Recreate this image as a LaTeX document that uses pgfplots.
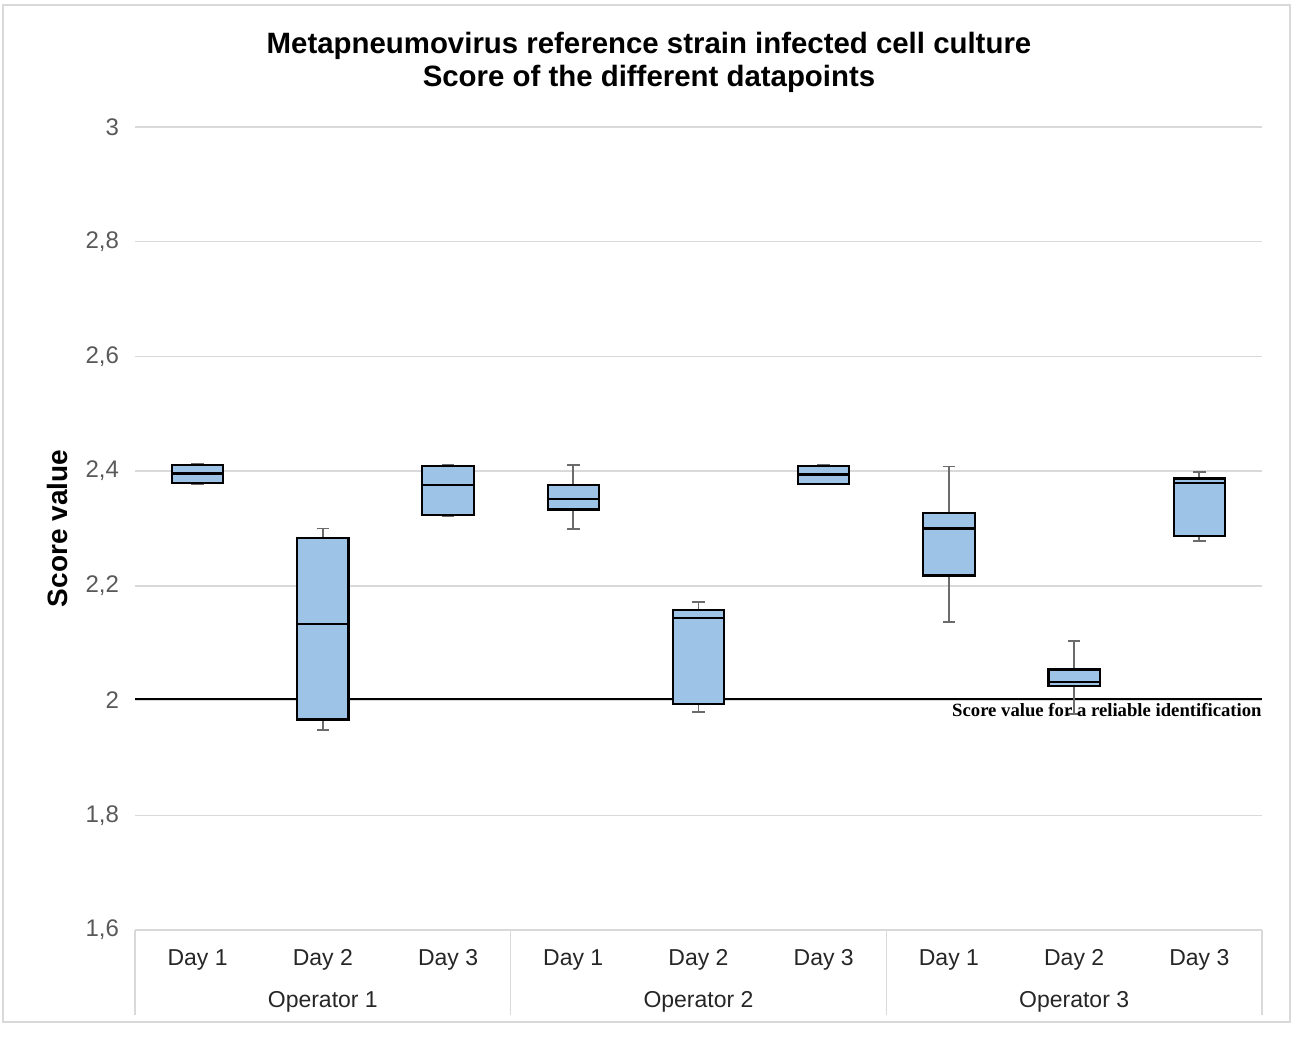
\documentclass[border=0pt]{standalone}
\usepackage{pgfplots}
\pgfplotsset{compat=1.18}
\usepgfplotslibrary{statistics}
\usepackage{fontspec}
\setmainfont{Liberation Sans}
\newfontfamily\timesfont{Liberation Serif}
\definecolor{boxblue}{HTML}{9DC3E6}
\definecolor{whisk}{HTML}{6B6B6B}
\definecolor{gridc}{HTML}{D9D9D9}
\definecolor{tickc}{HTML}{595959}
\definecolor{xlab}{HTML}{262626}
\begin{document}
\begin{tikzpicture}
\path (0,0) rectangle (646pt,513pt);
\draw[gridc, line width=0.6pt] (1.5pt,2pt) rectangle (645pt,510.5pt);
\node[font=\fontsize{14.7}{16}\selectfont\bfseries, anchor=center] at (324.5pt,490pt) {Metapneumovirus reference strain infected cell culture};
\node[font=\fontsize{14.7}{16}\selectfont\bfseries, anchor=center] at (324.5pt,473.5pt) {Score of the different datapoints};
\begin{axis}[
  at={(67.5pt,48pt)}, anchor=south west,
  scale only axis, width=563.5pt, height=401.5pt,
  xmin=-0.5, xmax=8.5, ymin=1.6, ymax=3,
  axis x line*=bottom, axis y line*=left,
  y axis line style={draw=none},
  x axis line style={draw=gridc, line width=0.8pt},
  ytick={1.6,1.8,2,2.2,2.4,2.6,2.8,3},
  ymajorgrids, grid style={draw=gridc, line width=0.7pt},
  ytick style={draw=none},
  xtick={0,1,2,3,4,5,6,7,8},
  xticklabels={Day 1,Day 2,Day 3,Day 1,Day 2,Day 3,Day 1,Day 2,Day 3},
  xtick style={draw=none},
  extra x ticks={-0.5,2.5,5.5,8.5},
  extra x tick labels={},
  extra x tick style={major tick length=42.5pt, tick align=outside, xtick style={draw=gridc, line width=0.8pt}, grid=none},
  /pgf/number format/assume math mode=true,
  /pgf/number format/use comma,
  /pgf/number format/fixed,
  /pgf/number format/precision=1,
  yticklabel style={font=\fontsize{12}{14}\selectfont, text=tickc, xshift=-4.5pt},
  xticklabel style={font=\fontsize{11.5}{13}\selectfont, text=xlab, yshift=-6pt, text height=1.6ex, text depth=0.5ex},
  boxplot/draw direction=y,
  boxplot/box extend=0.41,
  boxplot/whisker extend=0.1,
  boxplot/every box/.style={draw=black, fill=boxblue, line width=1.1pt},
  boxplot/every whisker/.style={draw=whisk, line width=0.9pt},
  boxplot/every median/.style={draw=black, line width=1.1pt},
  clip=false,
]
\addplot[draw=black, line width=1.2pt] coordinates {(-0.5,2.003) (8.5,2.003)};
\addplot[boxplot prepared={draw position=0, lower whisker=2.378, lower quartile=2.379, median=2.396, upper quartile=2.411, upper whisker=2.412}] coordinates {};
\addplot[boxplot prepared={draw position=1, lower whisker=1.949, lower quartile=1.967, median=2.133, upper quartile=2.283, upper whisker=2.300}] coordinates {};
\addplot[boxplot prepared={draw position=2, lower whisker=2.322, lower quartile=2.323, median=2.376, upper quartile=2.409, upper whisker=2.411}] coordinates {};
\addplot[boxplot prepared={draw position=3, lower whisker=2.299, lower quartile=2.333, median=2.352, upper quartile=2.376, upper whisker=2.411}] coordinates {};
\addplot[boxplot prepared={draw position=4, lower whisker=1.980, lower quartile=1.994, median=2.144, upper quartile=2.158, upper whisker=2.172}] coordinates {};
\addplot[boxplot prepared={draw position=5, lower whisker=2.377, lower quartile=2.378, median=2.394, upper quartile=2.409, upper whisker=2.410}] coordinates {};
\addplot[boxplot prepared={draw position=6, lower whisker=2.137, lower quartile=2.218, median=2.300, upper quartile=2.327, upper whisker=2.408}] coordinates {};
\addplot[boxplot prepared={draw position=7, lower whisker=1.977, lower quartile=2.025, median=2.032, upper quartile=2.054, upper whisker=2.104}] coordinates {};
\addplot[boxplot prepared={draw position=8, lower whisker=2.278, lower quartile=2.287, median=2.380, upper quartile=2.387, upper whisker=2.398}] coordinates {};
\node[anchor=north east, inner sep=0pt, font=\timesfont\fontsize{9.35}{10}\selectfont\bfseries] at ([yshift=-2pt]axis cs:8.5,2.003) {Score value for a reliable identification};
\node[font=\fontsize{11.5}{13}\selectfont, text=xlab] at ([yshift=-36pt]axis cs:1,1.6) {Operator 1};
\node[font=\fontsize{11.5}{13}\selectfont, text=xlab] at ([yshift=-36pt]axis cs:4,1.6) {Operator 2};
\node[font=\fontsize{11.5}{13}\selectfont, text=xlab] at ([yshift=-36pt]axis cs:7,1.6) {Operator 3};
\node[rotate=90, font=\fontsize{14}{16}\selectfont\bfseries] at ([xshift=-39pt]rel axis cs:0,0.5) {Score value};
\end{axis}
\end{tikzpicture}
\end{document}
